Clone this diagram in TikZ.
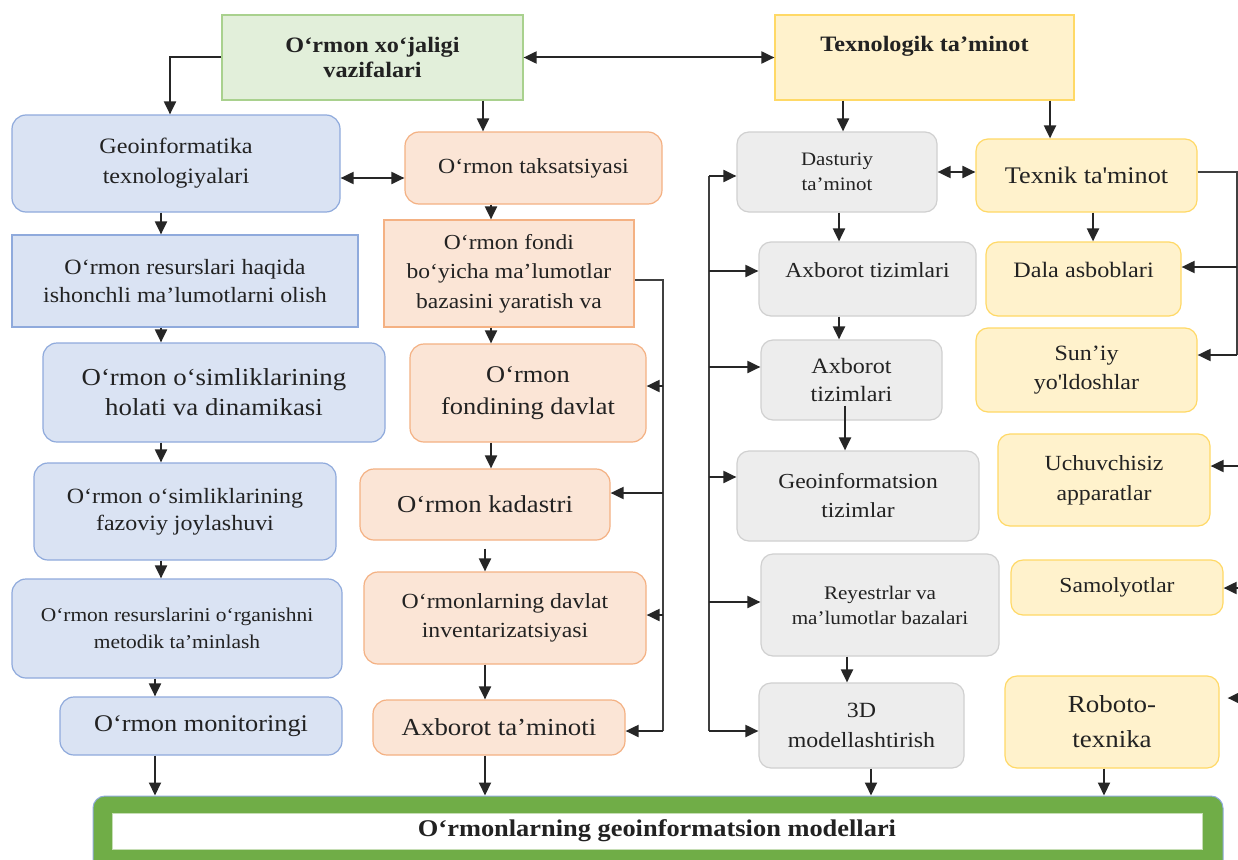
\documentclass[tikz,border=0pt]{standalone}
\usepackage{fontspec}
\setmainfont{Liberation Serif}[FakeStretch=1.1]
\usetikzlibrary{arrows.meta}
\definecolor{tcol}{HTML}{222222}
\definecolor{gfill}{HTML}{E2EFDA}\definecolor{gdraw}{HTML}{A9D18E}
\definecolor{yfill}{HTML}{FFF2CC}\definecolor{ydraw}{HTML}{FFD966}
\definecolor{bfill}{HTML}{DAE3F3}\definecolor{bdraw}{HTML}{8FAADC}
\definecolor{ofill}{HTML}{FBE5D6}\definecolor{odraw}{HTML}{F4B183}
\definecolor{hfill}{HTML}{EDEDED}\definecolor{hdraw}{HTML}{D0D0D0}
\definecolor{mgreen}{HTML}{70AD47}
\newcommand\bx[7]{\node[#6,minimum width={#4-#2},minimum height={#5-#3}] (#1) at ({(#2+#4)/2},{(#3+#5)/2}) {#7};}
\newcommand\fs[2]{\fontsize{#1pt}{#2pt}\selectfont}
\tikzset{
  base/.style={align=center,inner sep=0pt,text=tcol,line width=1.2pt},
  gbox/.style={base,fill=gfill,draw=gdraw},
  ybox/.style={base,fill=yfill,draw=ydraw,rounded corners=12pt},
  yrect/.style={base,fill=yfill,draw=ydraw},
  bbox/.style={base,fill=bfill,draw=bdraw,rounded corners=14pt},
  brect/.style={base,fill=bfill,draw=bdraw},
  obox/.style={base,fill=ofill,draw=odraw,rounded corners=14pt},
  orect/.style={base,fill=ofill,draw=odraw},
  hbox/.style={base,fill=hfill,draw=hdraw,rounded corners=12pt},
  txt/.style={align=center,inner sep=0pt,text=tcol},
  arr/.style={line width=2pt,draw=black!85,-{Triangle[length=13pt,width=12pt]}},
  dbl/.style={line width=2pt,draw=black!85,{Triangle[length=13pt,width=12pt]}-{Triangle[length=13pt,width=12pt]}},
  ln/.style={line width=2pt,draw=black!75},
}
\begin{document}
\begin{tikzpicture}[x=1pt,y=-1pt]
\useasboundingbox (0,0) rectangle (1238,859);
\fill[white] (0,0) rectangle (1238,859);
% column coordinates
\coordinate (xgA) at (170,0);
\coordinate (xb1) at (161,0);
\coordinate (xb2) at (155,0);
\coordinate (xo0) at (483,0);
\coordinate (xo1) at (491,0);
\coordinate (xo2) at (485,0);
\coordinate (xd1) at (843,0);
\coordinate (xt1) at (1050,0);
\coordinate (xd2) at (839,0);
\coordinate (xt2) at (1093,0);
\coordinate (xd3) at (839,0);
\coordinate (xd4) at (845,0);
\coordinate (xd5) at (847,0);
\coordinate (xd6) at (871,0);
\coordinate (xt6) at (1104,0);
\coordinate (y178) at (0,178);
% top boxes
\bx{vaz}{222}{15}{523}{100}{gbox,font={\fs{22}{25}\bfseries}}{O‘rmon xo‘jaligi\\vazifalari}
\bx{tex}{775}{15}{1074}{100}{yrect}{}
\node[txt,font={\fs{22}{26}\bfseries}] (texT) at ([yshift=11pt]tex.center) {Texnologik ta’minot};
% blue column
\bx{geo}{12}{115}{340}{212}{bbox,font={\fs{22}{30}}}{Geoinformatika\\texnologiyalari}
\bx{res}{12}{235}{358}{327}{brect,font={\fs{21.8}{28}}}{O‘rmon resurslari haqida\\ishonchli ma’lumotlarni olish}
\bx{hol}{43}{343}{385}{442}{bbox,font={\fs{24.4}{30}}}{O‘rmon o‘simliklarining\\holati va dinamikasi}
\bx{faz}{34}{463}{336}{560}{bbox,font={\fs{21.8}{27}}}{O‘rmon o‘simliklarining\\fazoviy joylashuvi}
\bx{met}{12}{579}{342}{678}{bbox,font={\fs{19.5}{26.5}}}{O‘rmon resurslarini o‘rganishni\\metodik ta’minlash}
\bx{mon}{60}{697}{342}{755}{bbox,font={\fs{23.9}{26}}}{O‘rmon monitoringi}
% orange column
\bx{tak}{405}{132}{662}{204}{obox,font={\fs{21.6}{26}}}{O‘rmon taksatsiyasi}
\bx{fon}{384}{220}{634}{327}{orect,font={\fs{21.4}{29.5}}}{O‘rmon fondi\\bo‘yicha ma’lumotlar\\bazasini yaratish va}
\bx{fdv}{410}{344}{646}{442}{obox,font={\fs{24}{32}}}{O‘rmon\\fondining davlat}
\bx{kad}{360}{469}{610}{540}{obox,font={\fs{24.3}{28}}}{O‘rmon kadastri}
\bx{inv}{364}{572}{646}{664}{obox,font={\fs{21.6}{29}}}{O‘rmonlarning davlat\\inventarizatsiyasi}
\bx{axt}{373}{700}{625}{755}{obox,font={\fs{24.4}{26}}}{Axborot ta’minoti}
% gray column
\bx{das}{737}{132}{937}{212}{hbox,font={\fs{19}{25}}}{Dasturiy\\ta’minot}
\bx{ax1}{759}{242}{976}{316}{hbox}{}
\node[txt,font={\fs{21.4}{26}}] (ax1T) at ([yshift=9pt]ax1.center) {Axborot tizimlari};
\bx{ax2}{761}{340}{942}{420}{hbox,font={\fs{21.9}{28}}}{Axborot\\tizimlari}
\bx{gis}{737}{451}{979}{541}{hbox,font={\fs{21.4}{29}}}{Geoinformatsion\\tizimlar}
\bx{rey}{761}{554}{999}{656}{hbox,font={\fs{19.2}{25}}}{Reyestrlar va\\ma’lumotlar bazalari}
\bx{d3}{759}{683}{964}{768}{hbox,font={\fs{21.7}{30}}}{3D\\modellashtirish}
% yellow column
\bx{tek}{976}{139}{1197}{212}{ybox,font={\fs{23.8}{30}}}{Texnik ta\textquotesingle minot}
\bx{dal}{986}{242}{1181}{316}{ybox}{}
\node[txt,font={\fs{22}{26}}] (dalT) at ([yshift=9pt]dal.center) {Dala asboblari};
\bx{sun}{976}{328}{1197}{412}{ybox,font={\fs{21.8}{29}}}{Sun’iy\\yo\textquotesingle ldoshlar}
\bx{uch}{998}{434}{1210}{526}{ybox,font={\fs{21.6}{30}}}{Uchuvchisiz\\apparatlar}
\bx{sam}{1011}{560}{1223}{615}{ybox,font={\fs{21.4}{26}}}{Samolyotlar}
\bx{rob}{1005}{676}{1219}{768}{ybox,font={\fs{24.5}{35}}}{Roboto-\\texnika}
% bottom
\begin{scope}
\clip (0,0) rectangle (1238,859);
\node[fill=mgreen,draw=bdraw,line width=1pt,rounded corners=12pt,minimum width=1130,minimum height=80,inner sep=0pt] (mod) at (658,836) {};
\node[fill=white,draw=mgreen!40,line width=0.8pt,minimum width=1090,minimum height=36,inner sep=0pt,text=tcol,font={\fs{24}{26}\bfseries}] (modT) at (657,831) {O‘rmonlarning geoinformatsion modellari};
\end{scope}
% connectors: top
\draw[arr] (vaz.west) -| (geo.north -| xgA);
\draw[dbl] (vaz.east) -- (tex.west);
\draw[arr] (vaz.south -| xo0) -- (tak.north -| xo0);
\draw[arr] (tex.south -| xd1) -- (das.north -| xd1);
\draw[arr] (tex.south -| xt1) -- (tek.north -| xt1);
\draw[dbl] (geo.east |- y178) -- (tak.west |- y178);
\draw[dbl] (das.east) -- (tek.west |- das.east);
% blue chain
\draw[arr] (geo.south -| xb1) -- (res.north -| xb1);
\draw[arr] (res.south -| xb1) -- (hol.north -| xb1);
\draw[arr] (hol.south -| xb1) -- (faz.north -| xb1);
\draw[arr] (faz.south -| xb1) -- (met.north -| xb1);
\draw[arr] (met.south -| xb2) -- (mon.north -| xb2);
\draw[arr] (mon.south -| xb2) -- (mod.north -| xb2);
% orange chain
\draw[arr] (tak.south -| xo1) -- (fon.north -| xo1);
\draw[arr] (fon.south -| xo1) -- (fdv.north -| xo1);
\draw[arr] (fdv.south -| xo1) -- (kad.north -| xo1);
\draw[arr] ([yshift=-8pt]kad.south -| xo2) -- (inv.north -| xo2);
\draw[arr] (inv.south -| xo2) -- (axt.north -| xo2);
\draw[arr] (axt.south -| xo2) -- (mod.north -| xo2);
% orange bus
\coordinate (obT) at (663,280);
\coordinate (obB) at (663,731);
\coordinate (yo1) at (0,386);
\coordinate (yo2) at (0,493);
\coordinate (yo3) at (0,615);
\draw[ln] (fon.east |- obT) -- (obT) -- (obB);
\draw[arr] (obB) -- (axt.east |- obB);
\draw[arr] (obT |- yo1) -- (fdv.east |- yo1);
\draw[arr] (obT |- yo2) -- (kad.east |- yo2);
\draw[arr] (obT |- yo3) -- (inv.east |- yo3);
% gray chain
\draw[arr] (das.south -| xd2) -- (ax1.north -| xd2);
\draw[arr] (ax1.south -| xd3) -- (ax2.north -| xd3);
\draw[arr] ([yshift=15pt]ax2.south -| xd4) -- (gis.north -| xd4);
\draw[arr] (rey.south -| xd5) -- (d3.north -| xd5);
\draw[arr] (d3.south -| xd6) -- (mod.north -| xd6);
% gray bus
\coordinate (gbT) at (709,176);
\coordinate (gbB) at (709,731);
\coordinate (yg1) at (0,271);
\coordinate (yg2) at (0,367);
\coordinate (yg3) at (0,477);
\coordinate (yg4) at (0,602);
\draw[ln] (gbT) -- (gbB);
\draw[arr] (gbT) -- (das.west |- gbT);
\draw[arr] (gbT |- yg1) -- (ax1.west |- yg1);
\draw[arr] (gbT |- yg2) -- (ax2.west |- yg2);
\draw[arr] (gbT |- yg3) -- (gis.west |- yg3);
\draw[arr] (gbT |- yg4) -- (rey.west |- yg4);
\draw[arr] (gbB) -- (d3.west |- gbB);
% yellow chain and bus
\draw[arr] (tek.south -| xt2) -- (dal.north -| xt2);
\draw[arr] (rob.south -| xt6) -- (mod.north -| xt6);
\coordinate (ybT) at (1237,172);
\coordinate (ybB) at (1237,355);
\coordinate (yy1) at (0,267);
\draw[ln] (tek.east |- ybT) -- (ybT) -- (ybB);
\draw[arr] (ybT |- yy1) -- (dal.east |- yy1);
\draw[arr] (ybB) -- (sun.east |- ybB);
\coordinate (eU) at (1238,466);
\coordinate (eS) at (1238,588);
\coordinate (eR) at (1238,698);
\draw[arr] (eU) -- (uch.east |- eU);
\draw[arr] (eS) -- (sam.east |- eS);
\draw[arr] (eR) -- ([xshift=8pt]rob.east |- eR);
\end{tikzpicture}
\end{document}
